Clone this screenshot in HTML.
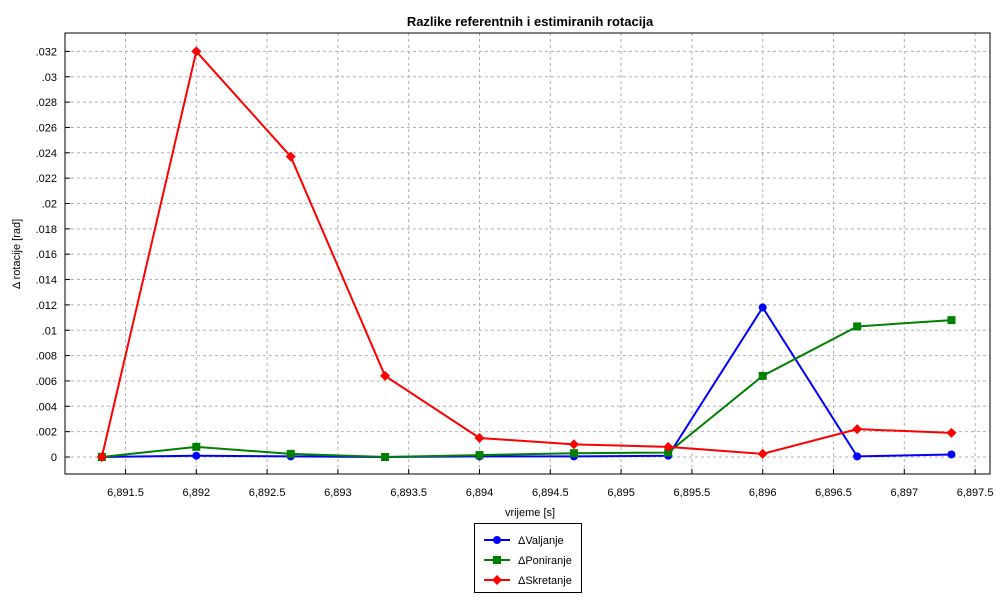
<!DOCTYPE html>
<html><head><meta charset="utf-8"><style>
html,body{margin:0;padding:0;background:#fff;}
svg{display:block;font-family:"Liberation Sans",Arial,sans-serif;}
</style></head><body>
<svg id="chart" width="1000" height="600">
<rect x="0" y="0" width="1000" height="600" fill="#fff"/>
<text x="530" y="26" text-anchor="middle" font-size="13" font-weight="bold">Razlike referentnih i estimiranih rotacija</text>
<text transform="translate(20,254) rotate(-90)" text-anchor="middle" font-size="11">Δ rotacije [rad]</text>
<text x="530" y="516" text-anchor="middle" font-size="11">vrijeme [s]</text>
<g id="grid"></g><g id="series"></g>
<rect x="65" y="33" width="925" height="441" fill="none" stroke="#000" stroke-width="1"/>
<g>
<rect x="474.5" y="523.5" width="107" height="69" fill="#fff" stroke="#000"/>
<g id="legend"></g>
</g>
</svg>
<script>
const times=[6891.333,6892,6892.667,6893.333,6894,6894.667,6895.333,6896,6896.667,6897.333];
const valjanje=[0,0.0001,0.00005,0,0.00005,0.00005,0.0001,0.0118,0.00005,0.0002];
const poniranje=[0,0.0008,0.00025,0,0.00015,0.0003,0.00035,0.0064,0.0103,0.0108];
const skretanje=[0,0.032,0.0237,0.0064,0.0015,0.001,0.0008,0.00025,0.0022,0.0019];
const xTicks=[6891.5,6892,6892.5,6893,6893.5,6894,6894.5,6895,6895.5,6896,6896.5,6897,6897.5];
const yTicks=[0,0.002,0.004,0.006,0.008,0.01,0.012,0.014,0.016,0.018,0.02,0.022,0.024,0.026,0.028,0.03,0.032];
const seriesNames=["ΔValjanje","ΔPoniranje","ΔSkretanje"];
const NS="http://www.w3.org/2000/svg";
const L=65,R=990,T=33,B=474;
function xs(v){return 196.3+(v-6892)*141.6;}
function ys(v){return 457-v*12675;}
function mk(t,a,p){const e=document.createElementNS(NS,t);for(const k in a)e.setAttribute(k,a[k]);p.appendChild(e);return e;}
const grid=document.getElementById('grid');
xTicks.forEach(v=>{const x=xs(v);
 const g=mk('line',{x1:x,x2:x,y1:T,y2:B,stroke:'#b0b0b0','stroke-dasharray':'3,3'},grid);
 
 
 mk('line',{x1:x,x2:x,y1:B,y2:B-5,stroke:'#000'},grid);
 const t=mk('text',{x:x,y:496,'text-anchor':'middle','font-size':'11'},grid);
 t.textContent=String(v).replace(/^689(\d)/,'6,89$1');
 
 
});
yTicks.forEach(v=>{const y=ys(v);
 const g=mk('line',{x1:L,x2:R,y1:y,y2:y,stroke:'#b0b0b0','stroke-dasharray':'3,3'},grid);
 
 
 mk('line',{x1:L,x2:L+5,y1:y,y2:y,stroke:'#000'},grid);
 const t=mk('text',{x:L-8,y:y+4,'text-anchor':'end','font-size':'11'},grid);
 t.textContent=v===0?'0':String(v).replace(/^0/,'');
 
 
});
function marker(shape,x,y,c,p){
 if(shape==='circle')return mk('circle',{cx:x,cy:y,r:4,fill:c},p);
 if(shape==='square')return mk('rect',{x:x-4,y:y-4,width:8,height:8,fill:c},p);
 return mk('polygon',{points:`${x},${y-5} ${x+5},${y} ${x},${y+5} ${x-5},${y}`,fill:c},p);
}
const sg=document.getElementById('series');
const all=[[valjanje,'#0000ff','circle','valjanje'],[poniranje,'#008000','square','poniranje'],[skretanje,'#ff0000','diamond','skretanje']];
all.forEach(([d,c,s,n])=>{
 const g=mk('g',{},sg);
 
 
 mk('polyline',{points:d.map((v,i)=>xs(times[i])+','+ys(v)).join(' '),fill:'none',stroke:c,'stroke-width':2},g);
 d.forEach((v,i)=>{const m=marker(s,xs(times[i]),ys(v),c,g);
  
  });
});
const lg=document.getElementById('legend');
all.forEach(([d,c,s,n],i)=>{const y=540+i*20;
 const g=mk('g',{},lg);
 
 
 mk('line',{x1:484,x2:510,y1:y,y2:y,stroke:c,'stroke-width':2},g);
 marker(s,497,y,c,g);
 const t=mk('text',{x:518,y:y+4,'font-size':'11'},g);t.textContent=seriesNames[i];
});
</script>
</body></html>
